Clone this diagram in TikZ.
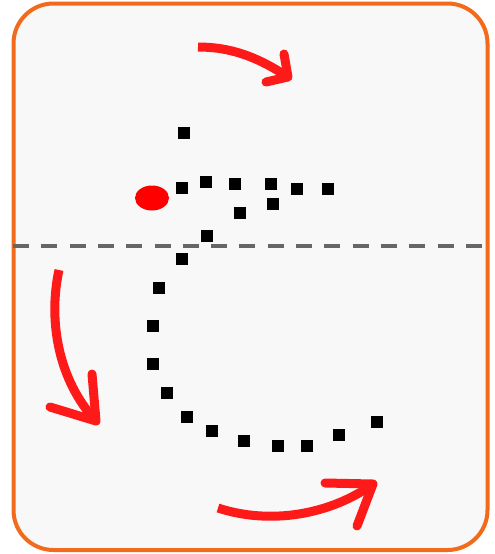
\documentclass[tikz,border=0pt]{standalone}
\usetikzlibrary{shapes.geometric}
\definecolor{frameorange}{HTML}{F26A1B}
\definecolor{arrowred}{HTML}{FF1A1A}
\definecolor{bggray}{HTML}{F8F8F8}
\definecolor{dashgray}{HTML}{666666}
\tikzset{
  sq/.style={fill=black, draw=none, minimum size=12pt, inner sep=0pt, outer sep=0pt},
  shaft/.style={draw=arrowred, line width=9pt, line cap=butt},
  head/.style={draw=arrowred, line width=9pt, line cap=round, line join=round},
}
\begin{document}
\begin{tikzpicture}[x=1pt,y=-1pt]
\useasboundingbox (0,0) rectangle (495,554);
\fill[white] (0,0) rectangle (495,554);
\draw[frameorange, line width=4pt, fill=bggray, rounded corners=40pt] (13.5,3.5) rectangle (487.5,550);
% dashed axis
\coordinate (dl) at (13,245.5);
\coordinate (dr) at (485,245.5);
\draw[dashgray, line width=4pt, dash pattern=on 16pt off 12.3pt] (dl) -- (dr);
% red dot
\node[fill=red, draw=none, ellipse, minimum width=34pt, minimum height=25pt, inner sep=0pt] (dot) at (152,198) {};
% squares
\node[sq] (a1) at (184,133) {};
\node[sq] (a2) at (182,188) {};
\node[sq] (a3) at (206,182) {};
\node[sq] (a4) at (235,184) {};
\node[sq] (a5) at (271,184) {};
\node[sq] (a6) at (297,189) {};
\node[sq] (a7) at (328,189) {};
\node[sq] (a8) at (273,204) {};
\node[sq] (a9) at (240,213) {};
\node[sq] (a10) at (207,236) {};
\node[sq] (b1) at (182,259) {};
\node[sq] (b2) at (159,288) {};
\node[sq] (b3) at (153,326) {};
\node[sq] (b4) at (153,364) {};
\node[sq] (b5) at (167,393) {};
\node[sq] (b6) at (187,417) {};
\node[sq] (b7) at (212,431) {};
\node[sq] (b8) at (244,441) {};
\node[sq] (b9) at (278,446) {};
\node[sq] (b10) at (307,446) {};
\node[sq] (b11) at (339,435) {};
\node[sq] (b12) at (377,422) {};
% top arrow
\coordinate (t0) at (198,47);
\coordinate (t1) at (288,77);
\draw[shaft] (t0) .. controls (235,47) and (262,60) .. (t1);
\draw[head] (284,54) -- (t1) -- (266,82);
% left arrow
\coordinate (l0) at (59,270);
\coordinate (l1) at (96,421);
\draw[shaft] (l0) .. controls (48,320) and (58,380) .. (l1);
\draw[head] (92,374) -- (l1) -- (50,407);
% bottom arrow
\coordinate (m0) at (218,508);
\coordinate (m1) at (373,484);
\draw[shaft] (m0) .. controls (270,525) and (330,515) .. (m1);
\draw[head] (325,483) -- (m1) -- (357,526);
\end{tikzpicture}
\end{document}
